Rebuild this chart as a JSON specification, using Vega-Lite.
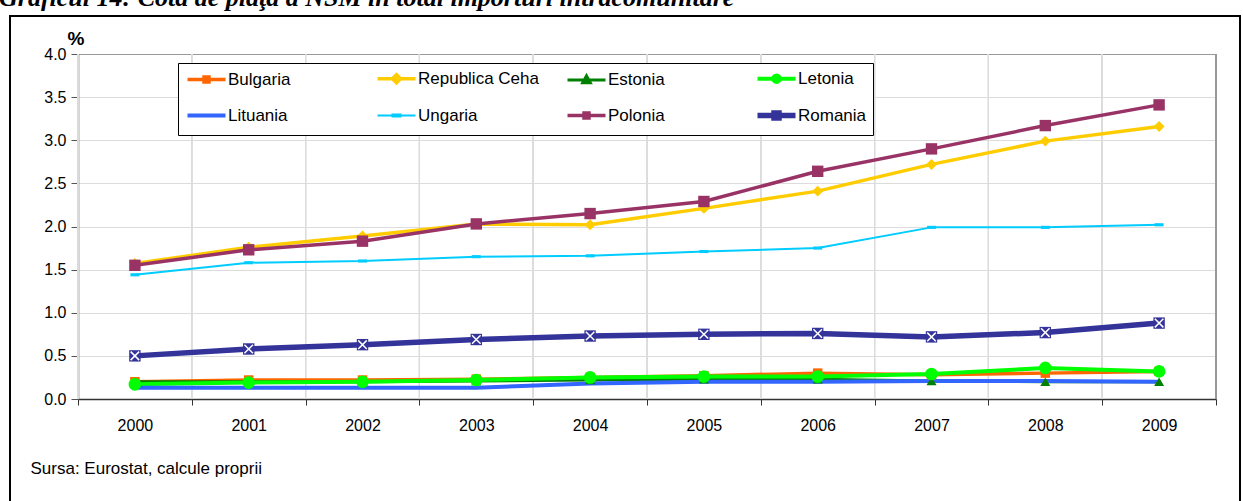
{
  "$schema": "https://vega.github.io/schema/vega-lite/v6.json",
  "width": 1230,
  "height": 488,
  "autosize": {"type": "none"},
  "padding": {"left": 10, "top": 16, "right": 3, "bottom": -3},
  "background": "white",
  "view": {"stroke": "black", "strokeWidth": 2},
  "title": {
    "text": "Graficul 14: Cota de piaţă a NSM în total importuri intracomunitare",
    "anchor": "start",
    "frame": "group",
    "font": "Liberation Serif",
    "fontSize": 26,
    "fontWeight": "bold",
    "fontStyle": "italic",
    "color": "black",
    "baseline": "alphabetic",
    "offset": 0,
    "dx": -11,
    "dy": 16
  },
  "config": {
    "font": "Liberation Sans",
    "axis": {"labelFont": "Liberation Sans", "titleFont": "Liberation Sans"}
  },
  "data": {
    "values": [
      {"country": "Bulgaria", "year": "2000", "value": 0.20},
      {"country": "Bulgaria", "year": "2001", "value": 0.22},
      {"country": "Bulgaria", "year": "2002", "value": 0.22},
      {"country": "Bulgaria", "year": "2003", "value": 0.23},
      {"country": "Bulgaria", "year": "2004", "value": 0.25},
      {"country": "Bulgaria", "year": "2005", "value": 0.27},
      {"country": "Bulgaria", "year": "2006", "value": 0.30},
      {"country": "Bulgaria", "year": "2007", "value": 0.28},
      {"country": "Bulgaria", "year": "2008", "value": 0.30},
      {"country": "Bulgaria", "year": "2009", "value": 0.32},
      {"country": "Republica Ceha", "year": "2000", "value": 1.57},
      {"country": "Republica Ceha", "year": "2001", "value": 1.76},
      {"country": "Republica Ceha", "year": "2002", "value": 1.89},
      {"country": "Republica Ceha", "year": "2003", "value": 2.03},
      {"country": "Republica Ceha", "year": "2004", "value": 2.02},
      {"country": "Republica Ceha", "year": "2005", "value": 2.21},
      {"country": "Republica Ceha", "year": "2006", "value": 2.41},
      {"country": "Republica Ceha", "year": "2007", "value": 2.72},
      {"country": "Republica Ceha", "year": "2008", "value": 2.99},
      {"country": "Republica Ceha", "year": "2009", "value": 3.16},
      {"country": "Estonia", "year": "2000", "value": 0.20},
      {"country": "Estonia", "year": "2001", "value": 0.20},
      {"country": "Estonia", "year": "2002", "value": 0.20},
      {"country": "Estonia", "year": "2003", "value": 0.21},
      {"country": "Estonia", "year": "2004", "value": 0.22},
      {"country": "Estonia", "year": "2005", "value": 0.23},
      {"country": "Estonia", "year": "2006", "value": 0.23},
      {"country": "Estonia", "year": "2007", "value": 0.21},
      {"country": "Estonia", "year": "2008", "value": 0.20},
      {"country": "Estonia", "year": "2009", "value": 0.20},
      {"country": "Letonia", "year": "2000", "value": 0.17},
      {"country": "Letonia", "year": "2001", "value": 0.19},
      {"country": "Letonia", "year": "2002", "value": 0.20},
      {"country": "Letonia", "year": "2003", "value": 0.22},
      {"country": "Letonia", "year": "2004", "value": 0.25},
      {"country": "Letonia", "year": "2005", "value": 0.26},
      {"country": "Letonia", "year": "2006", "value": 0.26},
      {"country": "Letonia", "year": "2007", "value": 0.29},
      {"country": "Letonia", "year": "2008", "value": 0.36},
      {"country": "Letonia", "year": "2009", "value": 0.32},
      {"country": "Lituania", "year": "2000", "value": 0.13},
      {"country": "Lituania", "year": "2001", "value": 0.13},
      {"country": "Lituania", "year": "2002", "value": 0.13},
      {"country": "Lituania", "year": "2003", "value": 0.13},
      {"country": "Lituania", "year": "2004", "value": 0.18},
      {"country": "Lituania", "year": "2005", "value": 0.20},
      {"country": "Lituania", "year": "2006", "value": 0.20},
      {"country": "Lituania", "year": "2007", "value": 0.21},
      {"country": "Lituania", "year": "2008", "value": 0.21},
      {"country": "Lituania", "year": "2009", "value": 0.20},
      {"country": "Ungaria", "year": "2000", "value": 1.44},
      {"country": "Ungaria", "year": "2001", "value": 1.58},
      {"country": "Ungaria", "year": "2002", "value": 1.60},
      {"country": "Ungaria", "year": "2003", "value": 1.65},
      {"country": "Ungaria", "year": "2004", "value": 1.66},
      {"country": "Ungaria", "year": "2005", "value": 1.71},
      {"country": "Ungaria", "year": "2006", "value": 1.75},
      {"country": "Ungaria", "year": "2007", "value": 1.99},
      {"country": "Ungaria", "year": "2008", "value": 1.99},
      {"country": "Ungaria", "year": "2009", "value": 2.02},
      {"country": "Polonia", "year": "2000", "value": 1.55},
      {"country": "Polonia", "year": "2001", "value": 1.73},
      {"country": "Polonia", "year": "2002", "value": 1.83},
      {"country": "Polonia", "year": "2003", "value": 2.03},
      {"country": "Polonia", "year": "2004", "value": 2.15},
      {"country": "Polonia", "year": "2005", "value": 2.29},
      {"country": "Polonia", "year": "2006", "value": 2.64},
      {"country": "Polonia", "year": "2007", "value": 2.90},
      {"country": "Polonia", "year": "2008", "value": 3.17},
      {"country": "Polonia", "year": "2009", "value": 3.41},
      {"country": "Romania", "year": "2000", "value": 0.50},
      {"country": "Romania", "year": "2001", "value": 0.58},
      {"country": "Romania", "year": "2002", "value": 0.63},
      {"country": "Romania", "year": "2003", "value": 0.69},
      {"country": "Romania", "year": "2004", "value": 0.73},
      {"country": "Romania", "year": "2005", "value": 0.75},
      {"country": "Romania", "year": "2006", "value": 0.76},
      {"country": "Romania", "year": "2007", "value": 0.72},
      {"country": "Romania", "year": "2008", "value": 0.77},
      {"country": "Romania", "year": "2009", "value": 0.88}
    ]
  },
  "encoding": {
    "x": {
      "field": "year",
      "type": "ordinal",
      "bandPosition": 0.5,
      "scale": {"type": "band", "paddingInner": 0, "paddingOuter": 0, "range": [68, 1206]},
      "axis": {
        "offset": -105,
        "tickBand": "extent",
        "labelAngle": 0,
        "labelFontSize": 16,
        "labelColor": "black",
        "labelPadding": 12,
        "tickSize": 6,
        "tickColor": "#333333",
        "domainColor": "#333333",
        "domainWidth": 1.5,
        "grid": false,
        "title": "Sursa: Eurostat, calcule proprii",
        "titleFontSize": 17,
        "titleFontWeight": "normal",
        "titleColor": "black",
        "titleAlign": "left",
        "titleBaseline": "alphabetic",
        "titleX": 20,
        "titleY": 74
      }
    },
    "y": {
      "field": "value",
      "type": "quantitative",
      "scale": {"domain": [0, 4], "nice": false, "zero": true, "range": [383, 38]},
      "axis": {
        "offset": -68,
        "values": [0, 0.5, 1, 1.5, 2, 2.5, 3, 3.5, 4],
        "format": ".1f",
        "labelFontSize": 16,
        "labelColor": "black",
        "labelPadding": 5,
        "tickSize": 7,
        "tickColor": "#555555",
        "domainColor": "#555555",
        "domainWidth": 1.5,
        "gridColor": {"condition": {"test": "datum.value === 4", "value": "#999999"}, "value": "#dcdcdc"},
        "title": "%",
        "titleAngle": 0,
        "titleFontSize": 19,
        "titleFontWeight": "bold",
        "titleColor": "black",
        "titleAlign": "left",
        "titleBaseline": "alphabetic",
        "titleX": -11,
        "titleY": 28
      }
    },
    "color": {
      "field": "country",
      "type": "nominal",
      "scale": {
        "domain": ["Bulgaria", "Republica Ceha", "Estonia", "Letonia", "Lituania", "Ungaria", "Polonia", "Romania"],
        "range": ["#FF6600", "#FFCC00", "#008000", "#00FF00", "#3366FF", "#00CCFF", "#993366", "#333399"]
      }
    }
  },
  "layer": [
    {
      "mark": {"type": "rule", "strokeWidth": 1},
      "encoding": {
        "x": {"field": "year", "type": "ordinal", "bandPosition": 0},
        "y": {"datum": 0},
        "y2": {"datum": 4},
        "color": {"value": "#dcdcdc"}
      }
    },
    {
      "transform": [{"filter": "datum.year === '2009'"}],
      "mark": {"type": "rule", "strokeWidth": 1.5},
      "encoding": {
        "x": {"field": "year", "type": "ordinal", "bandPosition": 1},
        "y": {"datum": 0},
        "y2": {"datum": 4},
        "color": {"value": "#999999"}
      }
    },
    {
      "mark": {"type": "line", "strokeJoin": "round"},
      "encoding": {
        "strokeWidth": {
          "field": "country",
          "type": "nominal",
          "scale": {
            "type": "ordinal",
            "domain": ["Bulgaria", "Republica Ceha", "Estonia", "Letonia", "Lituania", "Ungaria", "Polonia", "Romania"],
            "range": [3.5, 3.5, 3, 4, 4, 2, 3.5, 5.5]
          },
          "legend": null
        },
        "color": {
          "field": "country",
          "type": "nominal",
          "legend": {
            "title": null,
            "orient": "none",
            "direction": "horizontal",
            "legendX": 168,
            "legendY": 47,
            "columns": 4,
            "gridAlign": "all",
            "columnPadding": 17,
            "rowPadding": 11,
            "padding": 6,
            "strokeColor": "black",
            "fillColor": "white",
            "symbolSize": 100,
            "labelFontSize": 17,
            "labelColor": "black",
            "labelOffset": 27,
            "labelLimit": 300,
            "encode": {
              "symbols": {
                "update": {
                  "shape": {"signal": "(datum.value==='Bulgaria'||datum.value==='Polonia'||datum.value==='Romania') ? 'M-1,0H6.6M2.3,-0.5H3.3V0.5H2.3Z' : datum.value==='Republica Ceha' ? 'M-1,0H6.6M2.8,-0.8L3.6,0L2.8,0.8L2,0Z' : datum.value==='Estonia' ? 'M-1,0H6.6M2.8,-0.8L3.55,0.55H2.05Z' : datum.value==='Letonia' ? 'M-1,0H6.6M2.15,0A0.65,0.65,0,1,0,3.45,0A0.65,0.65,0,1,0,2.15,0Z' : datum.value==='Ungaria' ? 'M-1,0H6.6M2,-0.2H3.6V0.2H2Z' : 'M-1,0H6.6'"},
                  "strokeWidth": {"signal": "datum.value==='Ungaria' ? 2 : 4.5"},
                  "fill": {"scale": "color", "field": "value"},
                  "stroke": {"scale": "color", "field": "value"},
                  "opacity": {"value": 1},
                  "fillOpacity": {"value": 1},
                  "strokeOpacity": {"value": 1}
                }
              }
            }
          }
        }
      }
    },
    {
      "transform": [{"filter": "datum.country !== 'Lituania'"}],
      "mark": {"type": "point", "filled": true, "opacity": 1},
      "encoding": {
        "shape": {
          "field": "country",
          "type": "nominal",
          "scale": {
            "domain": ["Bulgaria", "Republica Ceha", "Estonia", "Letonia", "Ungaria", "Polonia", "Romania"],
            "range": ["square", "diamond", "triangle-up", "circle", "M-1,-0.35H1V0.35H-1Z", "square", "square"]
          },
          "legend": null
        },
        "size": {
          "field": "country",
          "type": "nominal",
          "scale": {
            "type": "ordinal",
            "domain": ["Bulgaria", "Republica Ceha", "Estonia", "Letonia", "Ungaria", "Polonia", "Romania"],
            "range": [90, 120, 100, 160, 80, 130, 130]
          },
          "legend": null
        }
      }
    },
    {
      "transform": [{"filter": "datum.country === 'Romania'"}],
      "mark": {"type": "point", "shape": "M-0.75,-0.75L0.75,0.75M0.75,-0.75L-0.75,0.75", "filled": false, "stroke": "white", "strokeWidth": 1.5, "size": 130, "opacity": 1},
      "encoding": {
        "color": {"value": "white"}
      }
    }
  ]
}
